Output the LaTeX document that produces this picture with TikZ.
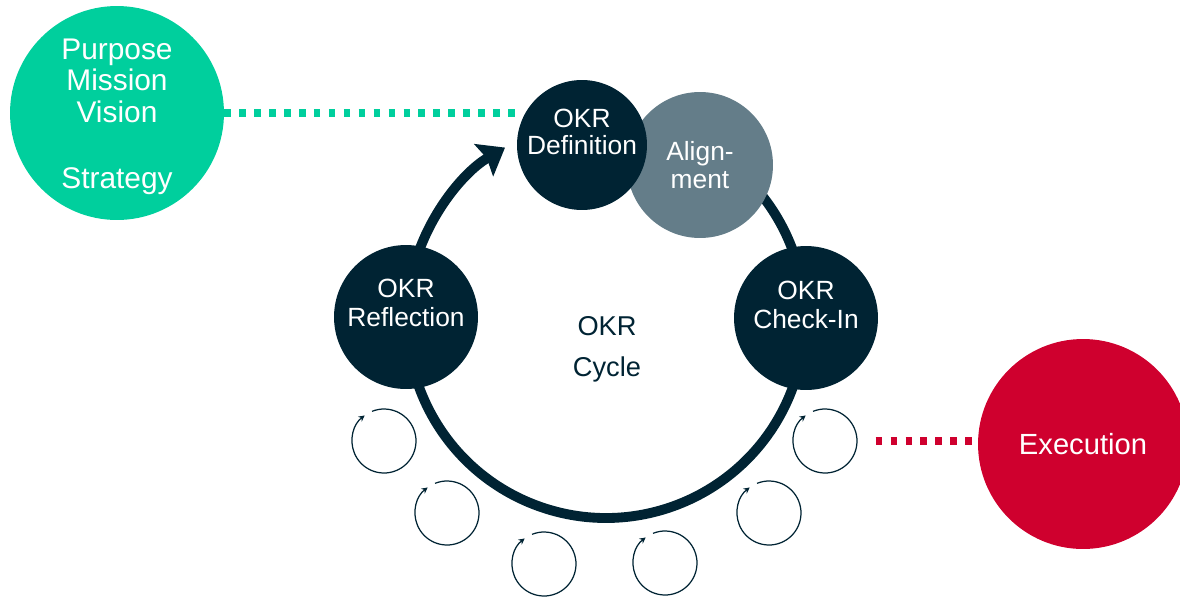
\documentclass[tikz,border=0pt]{standalone}
\usepackage{fontspec}
\setmainfont{Liberation Sans}
\usetikzlibrary{arrows.meta,calc}
\definecolor{okrnavy}{RGB}{0,35,51}
\definecolor{okrgrey}{RGB}{100,125,137}
\definecolor{okrteal}{RGB}{0,207,157}
\definecolor{okrred}{RGB}{207,0,46}
\pgfdeclarelayer{back}
\pgfsetlayers{back,main}
\begin{document}
\begin{tikzpicture}[x=0.02cm,y=-0.02cm,
  bubble/.style={circle,inner sep=0pt,align=center,text=white},
  darkbubble/.style={circle,inner sep=0pt,fill=okrnavy,minimum size=2.88cm},
  stagetext/.style={align=center,text=white,font=\fontsize{15}{16.4}\selectfont},
  bigbubble/.style={bubble,font=\fontsize{17}{18.1}\selectfont},
  ring/.style={draw=okrnavy,line width=5.6pt,
    -{Stealth[length=14pt,width=21pt,inset=2pt]}},
  loopline/.style={draw=okrnavy,line width=0.7pt,
    -{Stealth[length=3.5pt,width=3.5pt]}},
  dots/.style={line width=4pt,dash pattern=on 3.7pt off 4.8pt}]
\useasboundingbox (0,0) rectangle (1180,596);

% outer goals and execution
\node[circle,inner sep=0pt,fill=okrteal,minimum size=4.28cm,
  label={[text=white,align=center,font=\fontsize{17}{18.1}\selectfont,yshift=-0.07cm]center:{Purpose\\Mission\\Vision\\[19.3pt]Strategy}}]
  (purp) at (117,113) {};
\node[bigbubble,fill=okrred,minimum size=4.2cm,font=\fontsize{16.6}{18}\selectfont]
  (exec) at (1083,444) {Execution};

% the cycle ring
\coordinate (cen) at (606,319);
\draw[ring] ([shift={(70:3.98cm)}]cen) arc[start angle=70,end angle=-239.5,radius=3.98cm];

% cycle stages
\node[bubble,fill=okrgrey,minimum size=2.92cm,font=\fontsize{15}{15.9}\selectfont]
  (align) at (700,165) {Align-\\ment};
\node[darkbubble,minimum size=2.6cm,
  label={[stagetext,font=\fontsize{15}{15.4}\selectfont,yshift=0.27cm]center:{OKR\\Definition}}]
  (def) at (582,145) {};
\node[darkbubble,label={[stagetext,yshift=0.28cm]center:{OKR\\Reflection}}]
  (refl) at (406,317) {};
\node[darkbubble,label={[stagetext,yshift=0.26cm]center:{OKR\\Check-In}}]
  (chk) at (806,318) {};
\node[text=okrnavy,align=center,font=\fontsize{15.5}{23.4}\selectfont]
  (cyc) at (607,349) {OKR\\Cycle};

% small iteration loops
\path (384,441) coordinate (sc1) (447,513) coordinate (sc2)
      (544,564) coordinate (sc3) (665,563) coordinate (sc4)
      (769,513) coordinate (sc5) (825,441) coordinate (sc6);
\foreach \c in {sc1,sc2,sc3,sc4,sc5,sc6}
  \draw[loopline] ([shift={(112:0.64cm)}]\c)
    arc[start angle=112,end angle=-233,radius=0.64cm];

% dotted links
\begin{pgfonlayer}{back}
  \draw[dots,okrteal] (purp.east) -- (purp.east -| def.west);
  \draw[dots,okrred] (exec.west |- sc6) ++(-102,0) -- (exec.west |- sc6);
\end{pgfonlayer}
\end{tikzpicture}
\end{document}
